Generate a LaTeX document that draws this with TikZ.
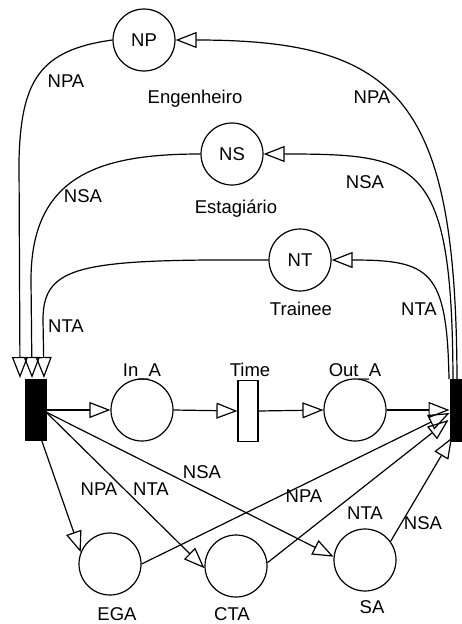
\documentclass[tikz,border=0pt]{standalone}
\usepackage{fontspec}
\setmainfont{Liberation Sans}
\usetikzlibrary{arrows.meta,calc}
\begin{document}
\begin{tikzpicture}[x=1pt,y=-1pt,
  pnplace/.style={draw,circle,minimum size=62pt,inner sep=0pt,line width=1.2pt},
  blacktr/.style={draw,fill=black,inner sep=0pt,line width=1pt},
  whitetr/.style={draw,fill=white,minimum width=20pt,minimum height=61pt,inner sep=0pt,line width=1.2pt},
  parc/.style={line width=1.2pt,-{Triangle[open,length=21pt,width=16pt,line width=1.2pt]}},
  lbl/.style={font=\fontsize{18.5}{22}\selectfont,anchor=base,inner sep=0pt}]

\fill[white] (0,0) rectangle (462,624);
\useasboundingbox (0,0) rectangle (462,624);

% places
\node[pnplace] (NP) at (144,40) {\fontsize{18.5}{22}\selectfont NP};
\node[pnplace] (NS) at (232,154) {\fontsize{18.5}{22}\selectfont NS};
\node[pnplace] (NT) at (300,260) {\fontsize{18.5}{22}\selectfont NT};
\node[pnplace] (InA) at (142,410) {};
\node[pnplace] (OutA) at (355,410) {};
\node[pnplace] (EGA) at (110,564) {};
\node[pnplace] (CTA) at (236,566) {};
\node[pnplace] (SA) at (365,560) {};

% transitions
\node[blacktr,minimum width=21pt,minimum height=61pt] (T1) at (35.5,410) {};
\node[whitetr] (Time) at (248,411) {};
\node[blacktr,minimum width=12pt,minimum height=62pt] (T2) at (456,410) {};

% anchor points on transitions
\coordinate (t1a) at (20,378);
\coordinate (t1b) at (32,378);
\coordinate (t1c) at (44,378);
\coordinate (t2a) at (449,379);
\coordinate (t2b) at (453,379);
\coordinate (t2c) at (457,379);
\coordinate (t1r) at (46,412);
\coordinate (t1s) at (41.5,440);

% labels of places and transitions
\node[lbl] (lEng) at (195,103) {Engenheiro};
\node[lbl] (lEst) at (236,213) {Estagiário};
\node[lbl] (lTra) at (301,315) {Trainee};
\node[lbl] (lIn) at (142,376) {In\_A};
\node[lbl] (lTime) at (250,376) {Time};
\node[lbl] (lOut) at (355,376) {Out\_A};
\node[lbl] (lEGA) at (117,620) {EGA};
\node[lbl] (lCTA) at (232,620) {CTA};
\node[lbl] (lSA) at (372,613) {SA};

% arcs into T1 (top)
\draw[parc] (NP.west) .. controls (40,50) and (21,80) .. (19,160) -- (t1a);
\draw[parc] (NS.west) .. controls (100,154) and (31,175) .. (31,280) -- (t1b);
\draw[parc] (NT.west) .. controls (80,259) and (43,265) .. (43,320) -- (t1c);

% arcs out of T2 (top)
\draw[parc] (t2c) .. controls (456,100) and (400,40) .. (NP.east);
\draw[parc] (t2b) .. controls (452,160) and (420,154) .. (NS.east);
\draw[parc] (t2a) .. controls (447,270) and (430,260) .. (NT.east);

% main line
\draw[parc] (T1.east) -- (InA.west);
\draw[parc] (InA.east) -- (Time.west);
\draw[parc] (Time.east) -- (OutA.west);
\draw[parc] (OutA.east) -- (T2.west);

% arcs from T1 to bottom places
\draw[parc] (t1s) -- (EGA.158);
\draw[parc] (t1r) -- (CTA.184);
\draw[parc] (t1r) -- (SA.174);

% arcs from bottom places to T2
\draw[parc] (EGA.east) -- ($(T2.west)+(0,3)$);
\draw[parc] (CTA.6) -- ($(T2.west)+(-1,10)$);
\draw[parc] (SA.36) -- ($(T2.south)+(-4,-4)$);

% arc labels
\node[lbl] at (66,87) {NPA};
\node[lbl] at (372,103) {NPA};
\node[lbl] at (365,188) {NSA};
\node[lbl] at (83,202) {NSA};
\node[lbl] at (66,332) {NTA};
\node[lbl] at (419,315) {NTA};
\node[lbl] at (202,478) {NSA};
\node[lbl] at (99,495) {NPA};
\node[lbl] at (151,495) {NTA};
\node[lbl] at (304,502) {NPA};
\node[lbl] at (365,519) {NTA};
\node[lbl] at (423,529) {NSA};
\end{tikzpicture}
\end{document}
